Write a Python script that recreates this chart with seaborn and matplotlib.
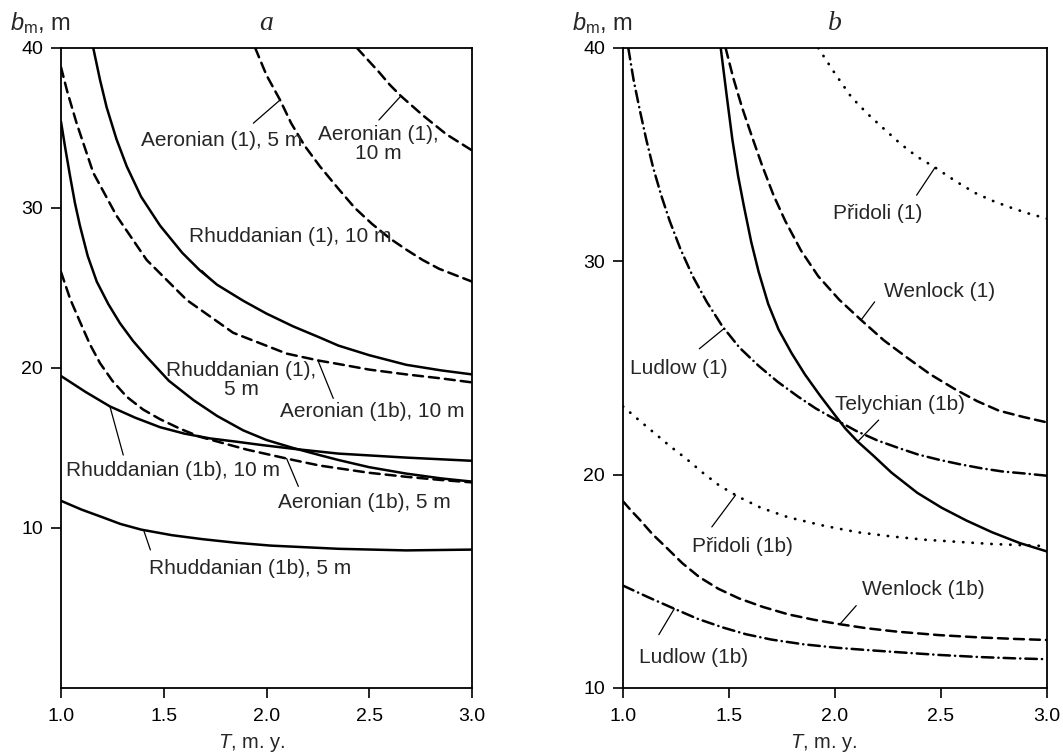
import numpy as np
import matplotlib
matplotlib.use("Agg")
import matplotlib.pyplot as plt
import seaborn as sns

sns.set_style("ticks")
plt.rcParams["font.family"] = ["Liberation Sans", "DejaVu Sans"]
plt.rcParams["mathtext.fontset"] = "custom"
plt.rcParams["mathtext.rm"] = "Liberation Sans"
plt.rcParams["mathtext.it"] = "Liberation Sans:italic"

# ---- panel a: Llandovery stages -------------------------------------------
rh1_10_T = [1.157, 1.19, 1.222, 1.27, 1.32, 1.39, 1.482, 1.59, 1.676, 1.76,
            1.887, 2.0, 2.13, 2.26, 2.35, 2.5, 2.68, 2.85, 3.0]
rh1_10_b = [40.0, 38.0, 36.3, 34.3, 32.6, 30.7, 28.9, 27.2, 26.1, 25.2,
            24.2, 23.4, 22.6, 21.9, 21.4, 20.8, 20.2, 19.85, 19.6]

ae1b_10_T = [1.0, 1.03, 1.076, 1.157, 1.271, 1.417, 1.612, 1.838, 2.098,
             2.26, 2.35, 2.5, 2.68, 2.85, 3.0]
ae1b_10_b = [38.8, 37.3, 35.3, 32.2, 29.5, 26.75, 24.25, 22.2, 20.9,
             20.45, 20.25, 19.9, 19.6, 19.35, 19.1]

rh1_5_T = [1.0, 1.02, 1.044, 1.068, 1.092, 1.13, 1.174, 1.23, 1.287, 1.35,
           1.417, 1.525, 1.644, 1.76, 1.887, 2.0, 2.13, 2.26, 2.35, 2.5,
           2.68, 2.85, 3.0]
rh1_5_b = [35.4, 33.8, 32.0, 30.3, 28.9, 27.0, 25.4, 24.0, 22.8, 21.7,
           20.7, 19.2, 18.0, 17.0, 16.1, 15.5, 15.0, 14.55, 14.25, 13.8,
           13.4, 13.1, 12.9]

ae1b_5_T = [1.0, 1.045, 1.092, 1.14, 1.19, 1.25, 1.32, 1.4, 1.482, 1.58,
            1.676, 1.79, 1.904, 2.13, 2.26, 2.5, 2.68, 2.85, 3.0]
ae1b_5_b = [26.0, 24.3, 22.9, 21.5, 20.3, 19.2, 18.2, 17.4, 16.8, 16.2,
            15.7, 15.3, 14.9, 14.25, 13.9, 13.45, 13.2, 13.0, 12.85]

rh1b_10_T = [1.0, 1.12, 1.238, 1.36, 1.482, 1.6, 1.725, 1.85, 1.968, 2.13,
             2.35, 2.68, 3.0]
rh1b_10_b = [19.5, 18.5, 17.6, 16.9, 16.3, 15.9, 15.6, 15.4, 15.2, 14.95,
             14.65, 14.4, 14.2]

rh1b_5_T = [1.0, 1.1, 1.196, 1.29, 1.39, 1.54, 1.69, 1.85, 2.02, 2.35,
            2.68, 3.0]
rh1b_5_b = [11.7, 11.15, 10.7, 10.25, 9.9, 9.55, 9.3, 9.08, 8.9, 8.7,
            8.6, 8.65]

ae1_5_T = [1.945, 2.0, 2.066, 2.12, 2.185, 2.26, 2.35, 2.43, 2.514, 2.6,
           2.68, 2.76, 2.84, 2.92, 3.0]
ae1_5_b = [40.0, 38.3, 36.75, 35.3, 33.9, 32.6, 31.2, 30.0, 29.0, 28.1,
           27.4, 26.75, 26.2, 25.8, 25.4]

ae1_10_T = [2.44, 2.49, 2.547, 2.6, 2.654, 2.76, 2.876, 3.0]
ae1_10_b = [40.0, 39.3, 38.5, 37.7, 37.0, 35.8, 34.6, 33.6]

# ---- panel b: Wenlock to Pridoli ------------------------------------------
tel_T = [1.461, 1.49, 1.516, 1.543, 1.570, 1.605, 1.640, 1.685, 1.734, 1.795,
         1.858, 1.93, 1.999, 2.05, 2.107, 2.18, 2.266, 2.388, 2.503, 2.62,
         2.741, 2.87, 3.0]
tel_b = [40.0, 37.7, 35.7, 34.0, 32.6, 30.9, 29.5, 28.0, 26.8, 25.7,
         24.7, 23.7, 22.8, 22.15, 21.55, 20.9, 20.1, 19.15, 18.45, 17.85,
         17.3, 16.8, 16.4]

wen1_T = [1.484, 1.52, 1.562, 1.61, 1.656, 1.71, 1.765, 1.84, 1.921, 2.02,
          2.123, 2.23, 2.345, 2.45, 2.567, 2.67, 2.773, 2.89, 3.0]
wen1_b = [40.0, 38.6, 37.2, 35.8, 34.5, 33.1, 31.9, 30.5, 29.3, 28.2,
          27.25, 26.3, 25.45, 24.7, 24.0, 23.45, 23.0, 22.7, 22.45]

pri1_T = [1.921, 2.0, 2.077, 2.155, 2.232, 2.31, 2.388, 2.472, 2.57, 2.662,
          2.74, 2.82, 2.91, 3.0]
pri1_b = [40.0, 38.8, 37.7, 36.9, 36.2, 35.5, 34.9, 34.4, 33.75, 33.2,
          32.85, 32.55, 32.25, 32.0]

lud1_T = [1.025, 1.05, 1.079, 1.11, 1.142, 1.18, 1.22, 1.27, 1.329, 1.395,
          1.469, 1.55, 1.640, 1.73, 1.827, 1.91, 1.999, 2.1, 2.201, 2.3,
          2.39, 2.49, 2.583, 2.69, 2.789, 2.9, 3.0]
lud1_b = [40.0, 38.5, 37.1, 35.7, 34.4, 33.1, 31.9, 30.6, 29.3, 28.1,
          26.95, 25.95, 25.1, 24.35, 23.65, 23.1, 22.6, 22.05, 21.6, 21.25,
          20.95, 20.7, 20.5, 20.3, 20.15, 20.05, 19.95]

pri1b_T = [1.0, 1.07, 1.142, 1.22, 1.298, 1.375, 1.453, 1.547, 1.65, 1.78,
           1.95, 2.107, 2.27, 2.424, 2.58, 2.741, 3.0]
pri1b_b = [23.2, 22.6, 22.0, 21.35, 20.75, 20.1, 19.5, 18.95, 18.45, 18.0,
           17.6, 17.3, 17.1, 16.95, 16.85, 16.75, 16.65]

wen1b_T = [1.0, 1.04, 1.078, 1.14, 1.203, 1.28, 1.36, 1.45, 1.547, 1.66,
           1.78, 1.9, 2.016, 2.15, 2.294, 2.49, 2.684, 2.85, 3.0]
wen1b_b = [18.75, 18.3, 17.9, 17.2, 16.6, 15.85, 15.2, 14.65, 14.2, 13.8,
           13.45, 13.2, 13.0, 12.8, 12.64, 12.48, 12.37, 12.3, 12.25]

lud1b_T = [1.0, 1.12, 1.234, 1.35, 1.47, 1.58, 1.70, 1.85, 2.016, 2.15,
           2.294, 2.49, 2.684, 2.85, 3.0]
lud1b_b = [14.8, 14.25, 13.75, 13.25, 12.84, 12.52, 12.27, 12.05, 11.88,
           11.78, 11.68, 11.55, 11.45, 11.39, 11.35]

x_ticks = [1.0, 1.5, 2.0, 2.5, 3.0]
y_ticks = [10, 20, 30, 40]

# line styles (dash lengths in line-width units)
SOLID = "-"
DASH = (0, (4.0, 2.4))
DOT = (0, (0.1, 3.3))
DASHDOT = (0, (4.6, 2.0, 0.1, 2.0))

panel_a = [
    (rh1_10_T, rh1_10_b, SOLID), (ae1b_10_T, ae1b_10_b, DASH),
    (rh1_5_T, rh1_5_b, SOLID), (ae1b_5_T, ae1b_5_b, DASH),
    (rh1b_10_T, rh1b_10_b, SOLID), (rh1b_5_T, rh1b_5_b, SOLID),
    (ae1_5_T, ae1_5_b, DASH), (ae1_10_T, ae1_10_b, DASH),
]
panel_b = [
    (tel_T, tel_b, SOLID), (wen1_T, wen1_b, DASH), (pri1_T, pri1_b, DOT),
    (lud1_T, lud1_b, DASHDOT), (pri1b_T, pri1b_b, DOT),
    (wen1b_T, wen1b_b, DASH), (lud1b_T, lud1b_b, DASHDOT),
]

# label text, text centre (T, b), leader start (T, b), leader end T on curve
labels_a = [
    ("Aeronian (1), 5 m", (1.782, 34.25), (1.936, 35.3), (ae1_5_T, ae1_5_b, 2.066)),
    ("Aeronian (1),\n10 m", (2.545, 34.0), (2.547, 35.5), (ae1_10_T, ae1_10_b, 2.654)),
    ("Rhuddanian (1), 10 m", (2.117, 28.2), (1.685, 26.1), (rh1_10_T, rh1_10_b, 1.749)),
    ("Rhuddanian (1),\n5 m", (1.877, 19.25), (1.652, 17.9), (rh1_5_T, rh1_5_b, 1.709)),
    ("Aeronian (1b), 10 m", (2.516, 17.27), (2.325, 18.1), (ae1b_10_T, ae1b_10_b, 2.25)),
    ("Rhuddanian (1b), 10 m", (1.547, 13.6), (1.303, 14.56), (rh1b_10_T, rh1b_10_b, 1.238)),
    ("Aeronian (1b), 5 m", (2.478, 11.58), (2.155, 12.6), (ae1b_5_T, ae1b_5_b, 2.098)),
    ("Rhuddanian (1b), 5 m", (1.918, 7.46), (1.435, 8.63), (rh1b_5_T, rh1b_5_b, 1.402)),
]
labels_b = [
    ("Přidoli (1)", (2.2, 32.25), (2.385, 33.1), (pri1_T, pri1_b, 2.472)),
    ("Wenlock (1)", (2.494, 28.6), (2.187, 28.1), (wen1_T, wen1_b, 2.123)),
    ("Ludlow (1)", (1.262, 25.0), (1.36, 25.9), (lud1_T, lud1_b, 1.477)),
    ("Telychian (1b)", (2.305, 23.27), (2.206, 22.56), (tel_T, tel_b, 2.107)),
    ("Přidoli (1b)", (1.5625, 16.64), (1.419, 17.55), (pri1b_T, pri1b_b, 1.531)),
    ("Wenlock (1b)", (2.416, 14.63), (2.10, 13.86), (wen1b_T, wen1b_b, 2.023)),
    ("Ludlow (1b)", (1.333, 11.41), (1.169, 12.5), (lud1b_T, lud1b_b, 1.242)),
]

fig = plt.figure(figsize=(10.63, 7.55), dpi=100)
ax_a = fig.add_axes([61 / 1063, 67 / 755, 411 / 1063, 640 / 755])
ax_b = fig.add_axes([623 / 1063, 67 / 755, 424 / 1063, 640 / 755])


def draw_panel(ax, curves, labels, ylim, letter, xlab_dx):
    for T, b, ls in curves:
        sns.lineplot(x=T, y=b, ax=ax, color="black",
                     lw=2.0 if ls is DOT else 1.8, linestyle=ls,
                     estimator=None, sort=False, dash_capstyle="round")
    for text, (tx, ty), (lx, ly), (cT, cb, te) in labels:
        ax.text(tx, ty, text, ha="center", va="center", fontsize=15,
                multialignment="center", linespacing=1.05)
        ax.annotate("", xy=(te, np.interp(te, cT, cb)), xytext=(lx, ly),
                    arrowprops=dict(arrowstyle="-", lw=0.9, color="black",
                                    shrinkA=0, shrinkB=0))
    ax.set_xlim(1.0, 3.0)
    ax.set_ylim(*ylim)
    ax.set_xticks(x_ticks)
    ax.set_xticklabels([f"{v:.1f}" for v in x_ticks])
    ax.set_yticks([t for t in y_ticks if t >= ylim[0]])
    ax.tick_params(direction="out", length=7, width=1.2, labelsize=14,
                   colors="black")
    ax.tick_params(axis="x", pad=7.5)
    ax.tick_params(axis="y", pad=6)
    for s in ax.spines.values():
        s.set_visible(True)
        s.set_linewidth(1.3)
        s.set_color("black")
    ax.set_xlabel("")
    ax.set_ylabel("")
    ax.annotate(r"$b_\mathrm{m}$, m", xy=(0, 1), xycoords="axes fraction",
                xytext=(-36.5, 18), textcoords="offset points",
                ha="left", va="center", fontsize=17)
    ax.annotate(letter, xy=(0.5, 1), xycoords="axes fraction",
                xytext=(0, 18), textcoords="offset points", ha="center",
                va="center", fontsize=20, family="Liberation Serif",
                style="italic")
    ax.annotate(r"$T$, m. y.", xy=(0.5, 0), xycoords="axes fraction",
                xytext=(xlab_dx, -39.5), textcoords="offset points",
                ha="center", va="center", fontsize=14.5)


draw_panel(ax_a, panel_a, labels_a, (0, 40), "a", -11)
draw_panel(ax_b, panel_b, labels_b, (10, 40), "b", -8)

fig.savefig("out.png", dpi=100)
